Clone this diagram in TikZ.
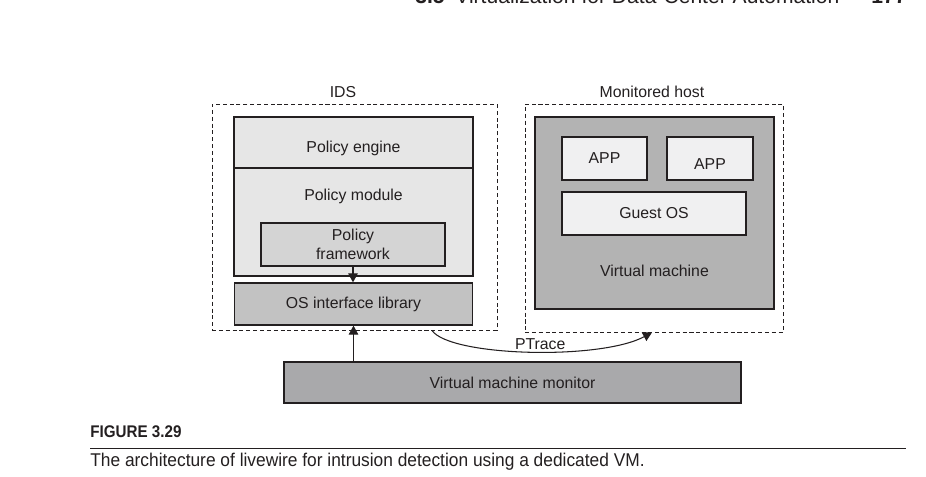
\documentclass[tikz,border=0pt]{standalone}
\usepackage{fontspec}
\setmainfont{Liberation Sans}
\newfontfamily\capfont[FakeStretch=0.94]{Liberation Sans}
\newfontfamily\capboldfont[FakeStretch=0.9]{Liberation Sans Bold}
\usetikzlibrary{arrows.meta,positioning,calc}

\definecolor{ink}{HTML}{231F20}
\definecolor{paleG}{HTML}{E6E6E6}
\definecolor{frameG}{HTML}{D4D4D4}
\definecolor{libG}{HTML}{C2C2C2}
\definecolor{vmG}{HTML}{B3B3B3}
\definecolor{vmmG}{HTML}{A9A9AB}
\definecolor{appG}{HTML}{F0F0F1}

\begin{document}
\begin{tikzpicture}[
    layerbox/.style={draw=ink, line width=0.7pt, fill=paleG, align=center, text=ink, font=\fontsize{9}{10.5}\selectfont, inner sep=0pt},
    zonebox/.style={draw=ink, line width=0.55pt, dash pattern=on 2.3pt off 1.6pt},
    tag/.style={font=\fontsize{9}{10.5}\selectfont, text=ink},
    arrow/.style={-{Triangle[length=1.8mm, width=1.9mm]}, line width=0.6pt, ink},
    headtext/.style={anchor=base west, inner sep=0pt, text=ink, font=\fontsize{12}{14}\selectfont},
    captext/.style={anchor=base west, inner sep=0pt, text=ink, font=\capfont\fontsize{10.5}{12}\selectfont}
]
\useasboundingbox (0,0) rectangle (18.52,-9.54);

% === Running head (cut by the page top) ===
\node[headtext, font=\bfseries\fontsize{12}{14}\selectfont] (headsec) at (8.30,-0.08) {3.5};
\node[headtext] (headtitle) at (9.10,-0.08) {Virtualization for Data-Center Automation};
\node[headtext, font=\bfseries\fontsize{12}{14}\selectfont] (headpage) at (17.42,-0.08) {177};

% === IDS zone ===
\node[zonebox, minimum width=5.70cm, minimum height=4.52cm] (ids) at (7.09,-4.34) {};
\node[tag] (idslabel) at (6.86,-1.84) {IDS};

\node[layerbox, minimum width=4.78cm, minimum height=1.02cm, text height=0.47cm, text depth=0.07cm] (engine) at (7.07,-2.85) {Policy engine};
\node[layerbox, minimum width=4.78cm, minimum height=2.16cm,
      label={[tag, anchor=center, yshift=-0.58cm]north:Policy module}] (module) at (7.07,-4.44) {};
\node[layerbox, fill=frameG, minimum width=3.68cm, minimum height=0.86cm] (framework) at (7.06,-4.89) {Policy\\framework};
\node[layerbox, fill=libG, minimum width=4.76cm, minimum height=0.84cm] (oslib) at (7.07,-6.08) {OS interface library};

% === Monitored host zone ===
\node[zonebox, minimum width=5.16cm, minimum height=4.56cm] (host) at (13.08,-4.36) {};
\node[tag] (hostlabel) at (13.04,-1.84) {Monitored host};

\node[layerbox, fill=vmG, minimum width=4.78cm, minimum height=3.84cm,
      label={[tag, anchor=center, yshift=0.78cm]south:Virtual machine}] (vm) at (13.09,-4.26) {};
\node[layerbox, fill=appG, minimum width=1.70cm, minimum height=0.86cm] (app1) at (12.09,-3.17) {APP};
\node[layerbox, fill=appG, minimum width=1.72cm, minimum height=0.86cm, text height=0.43cm, text depth=0cm] (app2) at (14.20,-3.17) {APP};
\node[layerbox, fill=appG, minimum width=3.68cm, minimum height=0.86cm] (guest) at (13.08,-4.27) {Guest OS};

% === Virtual machine monitor ===
\node[layerbox, fill=vmmG, minimum width=9.14cm, minimum height=0.82cm] (vmm) at (10.25,-7.65) {Virtual machine monitor};

% === Connectors ===
\draw[arrow] (framework.south) -- (framework.south |- oslib.north);
\draw[arrow] (vmm.north -| oslib.south) -- (oslib.south);
\draw[arrow] ([xshift=1.55cm]ids.south) .. controls ++(0.36,-0.52) and ++(-1.04,-0.56) .. ([xshift=-0.04cm]host.south)
    node[tag, pos=0.5, inner sep=0pt, above=0.04cm, xshift=0.22cm] (ptrace) {PTrace};

% === Caption ===
\node[captext, font=\capboldfont\fontsize{9.6}{11}\selectfont] (figno) at (1.80,-8.75) {FIGURE 3.29};
\draw[ink, line width=0.8pt] (figno.west |- 0,-8.97) -- (18.12,-8.97);
\node[captext] (figcap) at (1.80,-9.34) {The architecture of livewire for intrusion detection using a dedicated VM.};

\end{tikzpicture}
\end{document}
